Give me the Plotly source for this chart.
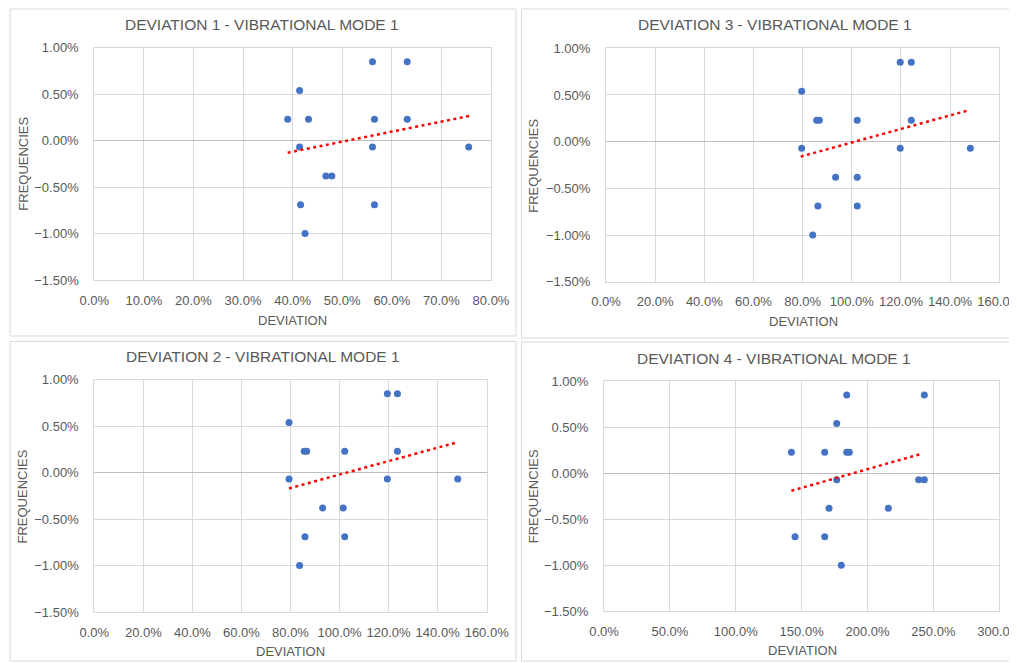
import plotly.graph_objects as go

# ---------------- data ----------------
titles = ["DEVIATION 1 - VIBRATIONAL MODE 1", "DEVIATION 3 - VIBRATIONAL MODE 1",
          "DEVIATION 2 - VIBRATIONAL MODE 1", "DEVIATION 4 - VIBRATIONAL MODE 1"]

dev1_x = [39.0, 41.4, 43.2, 41.4, 41.6, 42.5, 46.7, 47.9, 56.1, 56.5, 56.1, 56.5, 63.1, 63.1, 75.5]
dev1_y = [0.23, 0.54, 0.23, -0.07, -0.69, -1.00, -0.38, -0.38, 0.85, 0.23, -0.07, -0.69, 0.85, 0.23, -0.07]
trend1_x = [39.0, 75.7]
trend1_y = [-0.13, 0.266]

dev3_x = [79.6, 79.6, 85.7, 86.8, 86.2, 84.1, 93.4, 102.2, 102.2, 102.2, 119.7, 124.2, 119.7, 124.2, 148.2]
dev3_y = [0.54, -0.07, 0.23, 0.23, -0.69, -1.00, -0.38, 0.23, -0.38, -0.69, 0.85, 0.85, -0.07, 0.23, -0.07]
trend3_x = [79.2, 146.7]
trend3_y = [-0.16, 0.33]

dev2_x = [79.4, 79.4, 85.6, 86.6, 85.9, 83.7, 93.1, 101.5, 102.1, 102.1, 119.5, 123.6, 119.5, 123.6, 148.2]
dev2_y = [0.54, -0.07, 0.23, 0.23, -0.69, -1.00, -0.38, -0.38, 0.23, -0.69, 0.85, 0.85, -0.07, 0.23, -0.07]
trend2_x = [79.4, 147.1]
trend2_y = [-0.17, 0.32]

dev4_x = [142.2, 145.0, 167.5, 167.5, 170.8, 176.6, 176.6, 180.1, 184.2, 184.2, 186.2, 215.8, 238.8, 243.1, 243.1]
dev4_y = [0.23, -0.69, 0.23, -0.69, -0.38, 0.54, -0.07, -1.00, 0.85, 0.23, 0.23, -0.38, -0.07, -0.07, 0.85]
trend4_x = [142.2, 239.3]
trend4_y = [-0.19, 0.205]

x_ranges = [(0, 80, 10), (0, 160, 20), (0, 160, 20), (0, 300, 50)]
y_range = (-1.5, 1.0, 0.5)

series = [(dev1_x, dev1_y, trend1_x, trend1_y), (dev3_x, dev3_y, trend3_x, trend3_y),
          (dev2_x, dev2_y, trend2_x, trend2_y), (dev4_x, dev4_y, trend4_x, trend4_y)]

# ---------------- layout geometry (window pixels) ----------------
WIN_W, WIN_H = 1017, 663
OFF = 8  # default page body margin
W, H = WIN_W - OFF, WIN_H - OFF
# plot areas: (left, right, top, bottom)
plot_px = [(94.3, 491.0, 47.7, 280.0),
           (606.0, 999.3, 48.3, 281.7),
           (94.3, 486.7, 379.7, 612.0),
           (604.0, 999.3, 381.3, 611.3)]
# panel borders
border_px = [(10, 516, 9, 336), (521.5, 1016, 9, 338), (10, 516, 341.5, 661), (521.5, 1016, 342, 661)]
title_pos = [(262, 25), (775, 25), (262.5, 356.7), (774, 358.7)]
xtitle_pos = [(292.5, 320.7), (803, 321), (290.3, 651.7), (802, 650.7)]
ytitle_pos = [(22.7, 164), (534, 165.8), (22.7, 496.8), (533.3, 496)]

TXT = "#595959"
GRID = "#d9d9d9"
FONT = "Liberation Sans, Arial, sans-serif"

def px_x(v):
    return (v - OFF) / W

def px_y(v):
    return 1 - (v - OFF) / H

fig = go.Figure()
layout = dict(width=W, height=H, autosize=False, margin=dict(l=0, r=0, t=0, b=0, pad=0),
              paper_bgcolor="white", plot_bgcolor="white", showlegend=False,
              font=dict(family=FONT, color=TXT))
shapes = []
annotations = []

for i, ((xs, ys, tx, ty), (x0, x1, dx)) in enumerate(zip(series, x_ranges)):
    n = "" if i == 0 else str(i + 1)
    xa, ya = "x" + n, "y" + n
    fig.add_trace(go.Scatter(x=xs, y=ys, mode="markers", xaxis=xa, yaxis=ya,
                             marker=dict(color="#4472C4", size=7)))
    fig.add_trace(go.Scatter(x=tx, y=ty, mode="lines", xaxis=xa, yaxis=ya,
                             line=dict(color="#FF0000", width=2.5, dash="3px,3.5px")))
    l, r, t, btm = plot_px[i]
    layout["xaxis" + n] = dict(domain=[px_x(l), px_x(r)], anchor=ya, range=[x0, x1],
                               automargin=False, ticklabeloverflow="allow",
                               tick0=0, dtick=dx, tickformat=".1f", ticksuffix="%",
                               showgrid=True, gridcolor=GRID, gridwidth=1,
                               zeroline=False, showline=True, linecolor=GRID, mirror=True,
                               ticks="", ticklabelstandoff=8,
                               tickfont=dict(size=13, color=TXT, family=FONT))
    layout["yaxis" + n] = dict(domain=[px_y(btm), px_y(t)], anchor=xa, range=[y_range[0], y_range[1]],
                               automargin=False, ticklabeloverflow="allow",
                               tick0=0, dtick=y_range[2], tickformat=".2f", ticksuffix="%",
                               showgrid=True, gridcolor=GRID, gridwidth=1,
                               zeroline=True, zerolinecolor="#bfbfbf", zerolinewidth=1.3,
                               showline=True, linecolor=GRID, mirror=True,
                               ticks="", ticklabelstandoff=12,
                               tickfont=dict(size=13, color=TXT, family=FONT))
    bl, br, bt, bb = border_px[i]
    shapes.append(dict(type="rect", xref="paper", yref="paper",
                       x0=px_x(bl), x1=px_x(br), y0=px_y(bb), y1=px_y(bt),
                       line=dict(color=GRID, width=1), layer="below"))
    tx_, ty_ = title_pos[i]
    annotations.append(dict(text=titles[i], x=px_x(tx_), y=px_y(ty_), xref="paper", yref="paper",
                            showarrow=False, xanchor="center", yanchor="middle",
                            font=dict(size=15.5, color=TXT, family=FONT)))
    ax_, ay_ = xtitle_pos[i]
    annotations.append(dict(text="DEVIATION", x=px_x(ax_), y=px_y(ay_), xref="paper", yref="paper",
                            showarrow=False, xanchor="center", yanchor="middle",
                            font=dict(size=13, color=TXT, family=FONT)))
    fx, fy = ytitle_pos[i]
    annotations.append(dict(text="FREQUENCIES", x=px_x(fx), y=px_y(fy), xref="paper", yref="paper",
                            showarrow=False, xanchor="center", yanchor="middle", textangle=-90,
                            font=dict(size=13, color=TXT, family=FONT)))

layout["shapes"] = shapes
layout["annotations"] = annotations
fig.update_layout(**layout)
fig.write_html("out.html")
